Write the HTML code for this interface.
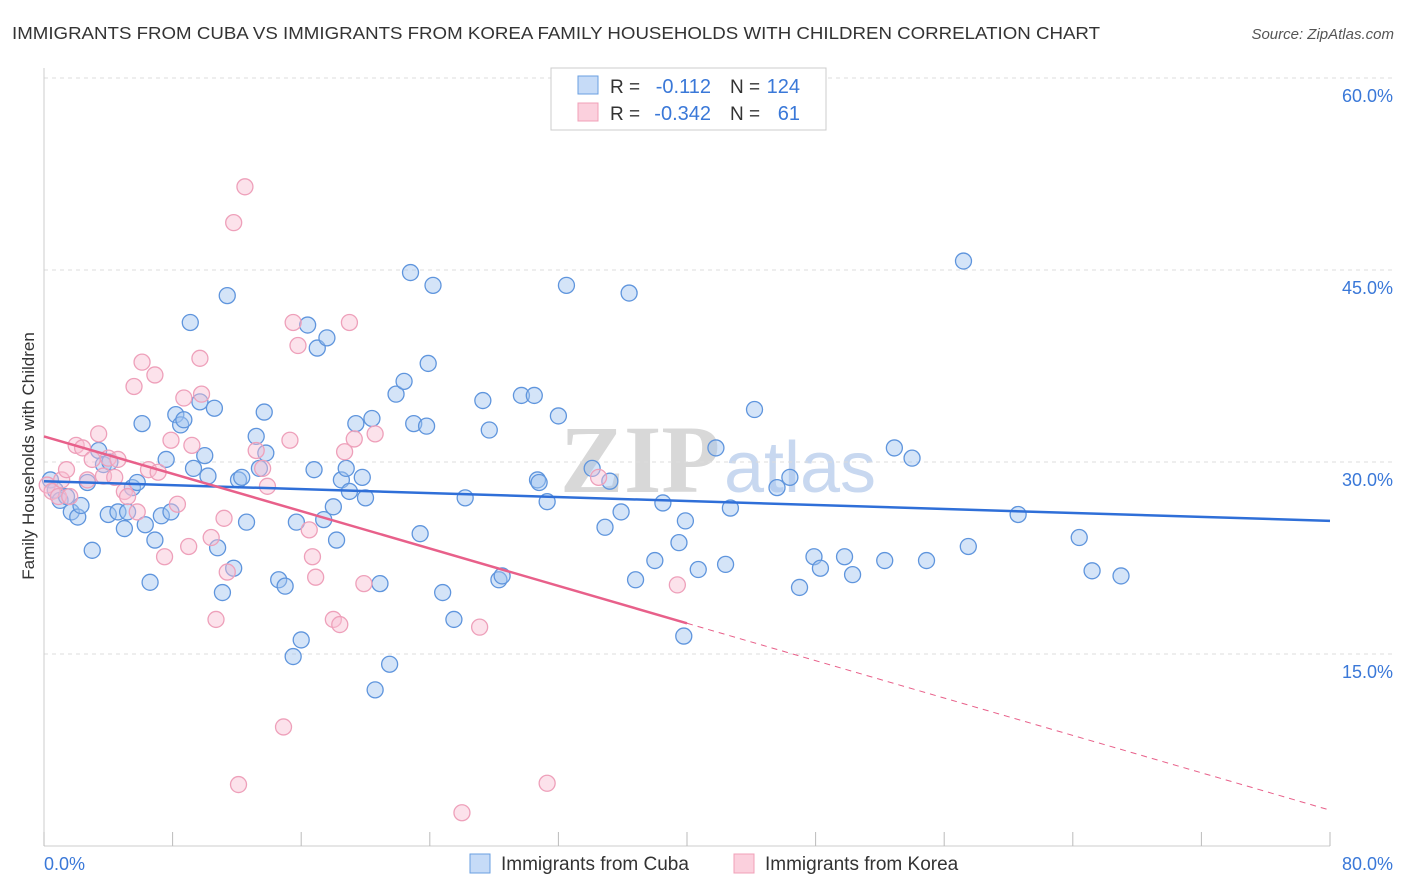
<!DOCTYPE html>
<html><head><meta charset="utf-8">
<style>
body{margin:0;background:#fff;font-family:"Liberation Sans",sans-serif;}
svg{display:block}
</style></head><body>
<svg id="chart" width="1406" height="892">
<text x="12" y="39" font-size="17.5" fill="#333" textLength="1088" lengthAdjust="spacingAndGlyphs">IMMIGRANTS FROM CUBA VS IMMIGRANTS FROM KOREA FAMILY HOUSEHOLDS WITH CHILDREN CORRELATION CHART</text>
<text x="1394" y="39" font-size="15" fill="#555" font-style="italic" text-anchor="end">Source: ZipAtlas.com</text>
<text x="640" y="492" font-size="96" fill="#d8d8d8" font-family="Liberation Serif" font-weight="bold" text-anchor="middle">ZIP</text>
<text x="800" y="492" font-size="72" fill="#c8d8f0" text-anchor="middle">atlas</text>
<text transform="translate(34,456) rotate(-90)" font-size="17" fill="#333" text-anchor="middle">Family Households with Children</text>
<g id="grid"></g><g id="pts"></g><g id="lines"></g>
<g>
<rect x="551" y="68" width="275" height="62" fill="#fff" stroke="#ccc"/>
<rect x="578" y="76" width="20" height="18" fill="#c6dbf7" stroke="#6a9fe0"/>
<rect x="578" y="103" width="20" height="18" fill="#fbd0dd" stroke="#f0a0b8"/>
<text x="610" y="93" font-size="19" fill="#333">R =</text>
<text x="711" y="93" font-size="20" fill="#3a78d8" text-anchor="end">-0.112</text>
<text x="730" y="93" font-size="19" fill="#333">N =</text>
<text x="800" y="93" font-size="20" fill="#3a78d8" text-anchor="end">124</text>
<text x="610" y="120" font-size="19" fill="#333">R =</text>
<text x="711" y="120" font-size="20" fill="#3a78d8" text-anchor="end">-0.342</text>
<text x="730" y="120" font-size="19" fill="#333">N =</text>
<text x="800" y="120" font-size="20" fill="#3a78d8" text-anchor="end">61</text>
</g>
<g>
<rect x="470" y="854" width="20" height="19" fill="#c6dbf7" stroke="#6a9fe0"/>
<text x="501" y="870" font-size="19" fill="#333">Immigrants from Cuba</text>
<rect x="734" y="854" width="20" height="19" fill="#fbd0dd" stroke="#f0a0b8"/>
<text x="765" y="870" font-size="19" fill="#333">Immigrants from Korea</text>
</g>
</svg>
<script>
const yTicks=[15,30,45,60];
const xTickLabels=["0.0%","80.0%"];
const cubaX=[0.4,0.7,1.0,1.4,1.7,2.1,2.3,2.7,3.0,3.4,3.7,4.0,4.1,4.6,5.0,5.2,5.5,5.8,6.1,6.3,6.6,6.9,7.3,7.6,7.9,8.2,8.5,8.7,9.1,9.3,9.7,10.0,10.2,10.6,10.8,11.1,11.4,11.8,12.1,12.3,12.6,13.2,13.4,13.7,13.8,14.6,15.0,15.5,15.7,16.0,16.4,16.8,17.0,17.4,17.6,18.0,18.2,18.5,18.8,19.0,19.4,19.8,20.0,20.4,20.6,20.9,21.5,21.9,22.4,22.8,23.0,23.4,23.8,23.9,24.2,24.8,25.5,26.2,27.3,27.7,28.3,28.5,29.7,30.5,30.7,30.8,31.3,32.0,32.5,34.1,34.9,35.2,35.9,36.4,36.8,38.0,38.5,39.5,39.9,39.8,40.7,41.8,42.4,42.7,44.2,45.6,46.4,47.0,47.9,48.3,49.8,50.3,52.3,52.9,54.0,54.9,57.2,57.5,60.6,64.4,65.2,67.0];
const cubaY=[28.6,27.8,27.0,27.3,26.1,25.7,26.6,28.4,23.1,30.9,29.8,25.9,30.0,26.1,24.8,26.1,28.0,28.4,33.0,25.1,20.6,23.9,25.8,30.2,26.1,33.7,32.9,33.3,40.9,29.5,34.7,30.5,28.9,34.2,23.3,19.8,43.0,21.7,28.6,28.8,25.3,32.0,29.5,33.9,30.7,20.8,20.3,14.8,25.3,16.1,40.7,29.4,38.9,25.5,39.7,26.5,23.9,28.6,29.5,27.7,33.0,28.8,27.2,33.4,12.2,20.5,14.2,35.3,36.3,44.8,33.0,24.4,32.8,37.7,43.8,19.8,17.7,27.2,34.8,32.5,20.8,21.1,35.2,35.2,28.6,28.4,26.9,33.6,43.8,29.5,24.9,28.5,26.1,43.2,20.8,22.3,26.8,23.7,25.4,16.4,21.6,31.1,22.0,26.4,34.1,28.0,28.8,20.2,22.6,21.7,22.6,21.2,22.3,31.1,30.3,22.3,45.7,23.4,25.9,24.1,21.5,21.1];
const koreaX=[0.2,0.5,0.9,1.1,1.4,1.6,2.0,2.4,2.7,3.0,3.4,3.7,4.0,4.4,4.6,5.0,5.2,5.6,5.8,6.1,6.5,6.9,7.1,7.5,7.9,8.3,8.7,9.0,9.2,9.7,9.8,10.4,10.7,11.2,11.4,11.8,12.1,12.5,13.2,13.6,13.9,14.9,15.3,15.5,15.8,16.5,16.7,16.9,18.0,18.4,18.7,19.0,19.3,19.9,20.6,26.0,27.1,31.3,34.5,39.4];
const koreaY=[28.2,27.7,27.3,28.6,29.4,27.3,31.3,31.1,28.6,30.2,32.2,28.9,30.3,28.8,30.2,27.7,27.3,35.9,26.1,37.8,29.4,36.8,29.2,22.6,31.7,26.7,35.0,23.4,31.3,38.1,35.3,24.1,17.7,25.6,21.4,48.7,4.8,51.5,30.9,29.5,28.1,9.3,31.7,40.9,39.1,24.7,22.6,21.0,17.7,17.3,30.8,40.9,31.8,20.5,32.2,2.6,17.1,4.9,28.8,20.4];
const cubaTrend=[28.5,25.4];
const koreaTrend=[32.0,17.4,2.8];
const NS="http://www.w3.org/2000/svg";
const X=v=>44+v/80*1286, Y=v=>846-v/15*192;
function mk(t,a,p){const e=document.createElementNS(NS,t);for(const k in a)e.setAttribute(k,a[k]);p.appendChild(e);return e;}
const g=document.getElementById('grid');
yTicks.forEach(t=>{
 const l=mk('line',{x1:44,x2:1394,y1:Y(t),y2:Y(t),stroke:'#ddd','stroke-dasharray':'4,4'},g);
 
 
 const tx=mk('text',{x:1393,y:Y(t)+24,'font-size':18,fill:'#3a78d8','text-anchor':'end'},g);
 tx.textContent=t.toFixed(1)+'%';
 
 
});
mk('line',{x1:44,x2:44,y1:68,y2:846,stroke:'#ccc'},g);
mk('line',{x1:44,x2:1330,y1:846,y2:846,stroke:'#ccc'},g);
for(let i=0;i<=10;i++){mk('line',{x1:X(i*8),x2:X(i*8),y1:832,y2:846,stroke:'#bbb'},g);}
const xl0=mk('text',{x:44,y:870,'font-size':18,fill:'#3a78d8'},g);xl0.textContent=xTickLabels[0];


const xl1=mk('text',{x:1393,y:870,'font-size':18,fill:'#3a78d8','text-anchor':'end'},g);xl1.textContent=xTickLabels[1];


const p=document.getElementById('pts');
cubaX.forEach((x,i)=>{const c=mk('circle',{cx:X(x),cy:Y(cubaY[i]),r:8,fill:'rgba(160,196,240,0.45)',stroke:'#5f95dd','stroke-width':1.3},p);
 
 });
koreaX.forEach((x,i)=>{const c=mk('circle',{cx:X(x),cy:Y(koreaY[i]),r:8,fill:'rgba(248,190,210,0.45)',stroke:'#eea0ba','stroke-width':1.3},p);
 
 });
const L=document.getElementById('lines');
const bl=mk('line',{x1:X(0),y1:Y(cubaTrend[0]),x2:X(80),y2:Y(cubaTrend[1]),stroke:'#2f6fd8','stroke-width':2.5},L);


const pl=mk('line',{x1:X(0),y1:Y(koreaTrend[0]),x2:X(40),y2:Y(koreaTrend[1]),stroke:'#e8608a','stroke-width':2.5},L);


const pd=mk('line',{x1:X(40),y1:Y(koreaTrend[1]),x2:X(80),y2:Y(koreaTrend[2]),stroke:'#e8608a','stroke-width':1,'stroke-dasharray':'6,5'},L);


</script>
</body></html>
